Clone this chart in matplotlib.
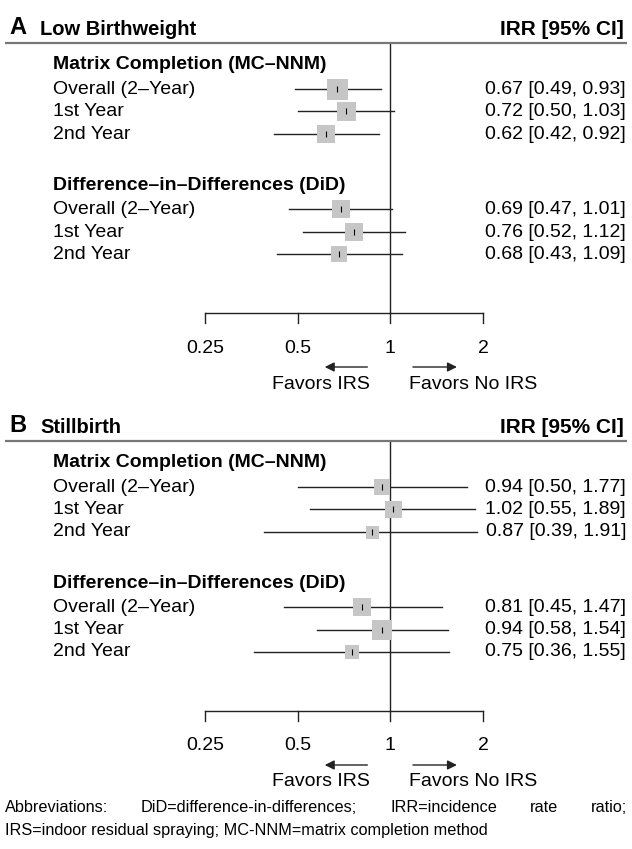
import matplotlib
matplotlib.use("Agg")
import matplotlib.pyplot as plt
import matplotlib.transforms as mtransforms

plt.rcParams['font.family'] = ['Liberation Sans', 'DejaVu Sans']

# ---- data ----
ROW_LABELS = ["Overall (2\u2013Year)", "1st Year", "2nd Year"]
GROUPS = ["Matrix Completion (MC\u2013NNM)", "Difference\u2013in\u2013Differences (DiD)"]
TICKS = [0.25, 0.5, 1, 2]
TICK_LABELS = ["0.25", "0.5", "1", "2"]

# low birthweight: MC rows then DiD rows
LBW_EST = [0.67, 0.72, 0.62, 0.69, 0.76, 0.68]
LBW_LO = [0.49, 0.50, 0.42, 0.47, 0.52, 0.43]
LBW_HI = [0.93, 1.03, 0.92, 1.01, 1.12, 1.09]
LBW_WT = [21, 19, 18, 18, 18, 16]

# stillbirth
SB_EST = [0.94, 1.02, 0.87, 0.81, 0.94, 0.75]
SB_LO = [0.50, 0.55, 0.39, 0.45, 0.58, 0.36]
SB_HI = [1.77, 1.89, 1.91, 1.47, 1.54, 1.55]
SB_WT = [16, 17, 13, 18, 20, 14]

FOOT1 = "Abbreviations: DiD=difference-in-differences; IRR=incidence rate ratio;"
FOOT2 = "IRS=indoor residual spraying; MC-NNM=matrix completion method"

W, H = 632, 849
X_ONE = 390.3      # pixel of IRR = 1
PX_DOUBLE = 92.7   # pixels per doubling
FS = 14

fig = plt.figure(figsize=(W / 100, H / 100), dpi=100)
ax = fig.add_axes([0, 0, 1, 1])
ax.set_xscale('log', base=2)
ax.set_xlim(2 ** (-X_ONE / PX_DOUBLE), 2 ** ((W - X_ONE) / PX_DOUBLE))
ax.set_ylim(H, 0)
ax.axis('off')

# x in axes fraction, y in data (pixel rows)
tr = mtransforms.blended_transform_factory(ax.transAxes, ax.transData)

# row offsets below the top rule
ROW_OFF = [46, 68, 91, 166, 189, 211]
HEAD_OFF = [21, 142]
AXIS_OFF = 270


def draw_panel(top, letter, title, est, lo, hi, wt):
    ax.text(9 / W, top - 16, letter, transform=tr, fontsize=17, fontweight='bold', va='center', ha='left')
    ax.text(40 / W, top - 14, title, transform=tr, fontsize=14.5, fontweight='bold', va='center', ha='left')
    ax.text(624 / W, top - 14, "IRR [95% CI]", transform=tr, fontsize=15, fontweight='bold', va='center', ha='right')
    ax.plot([5 / W, 627 / W], [top, top], transform=tr, color='#777777', lw=1.6, solid_capstyle='butt')

    for g, off in zip(GROUPS, HEAD_OFF):
        ax.text(53 / W, top + off, g, transform=tr, fontsize=FS, fontweight='bold', va='center', ha='left')

    ys = [top + o for o in ROW_OFF]
    for i, y in enumerate(ys):
        ax.text(53 / W, y, ROW_LABELS[i % 3], transform=tr, fontsize=FS, va='center', ha='left')
        ax.plot([lo[i], hi[i]], [y, y], color='#222222', lw=1.0, zorder=2)
        ax.scatter([est[i]], [y], marker='s', s=(wt[i] * 0.72) ** 2, color='#c6c6c6', lw=0, zorder=3)
        ax.scatter([est[i]], [y], marker='|', s=25, color='black', lw=0.8, zorder=4)
        ax.text(626 / W, y, "%.2f [%.2f, %.2f]" % (est[i], lo[i], hi[i]), transform=tr,
                fontsize=FS, va='center', ha='right')

    ya = top + AXIS_OFF
    ax.plot([1, 1], [top, ya], color='#222222', lw=1.0, zorder=1)
    ax.plot([TICKS[0], TICKS[-1]], [ya, ya], color='#222222', lw=1.0)
    for t, lab in zip(TICKS, TICK_LABELS):
        ax.plot([t, t], [ya, ya + 10], color='#222222', lw=1.0)
        ax.text(t, ya + 35, lab, fontsize=FS, ha='center', va='center')
    yarr = ya + 54
    ax.annotate("", xy=(0.60, yarr), xytext=(0.86, yarr),
                arrowprops=dict(arrowstyle='-|>', color='#222222', lw=1.0, mutation_scale=14))
    ax.annotate("", xy=(1.68, yarr), xytext=(1.16, yarr),
                arrowprops=dict(arrowstyle='-|>', color='#222222', lw=1.0, mutation_scale=14))
    ax.text(0.86, ya + 71, "Favors IRS", fontsize=FS, ha='right', va='center')
    ax.text(1.15, ya + 71, "Favors No IRS", fontsize=FS, ha='left', va='center')


draw_panel(43, "A", "Low Birthweight", LBW_EST, LBW_LO, LBW_HI, LBW_WT)
draw_panel(441, "B", "Stillbirth", SB_EST, SB_LO, SB_HI, SB_WT)

# footnote, first line justified
renderer = fig.canvas.get_renderer()
words = FOOT1.split(" ")
objs = [fig.text(0, 1 - 808 / H, w_, fontsize=11.7, va='center', ha='left') for w_ in words]
widths = [o.get_window_extent(renderer).width for o in objs]
left, right = 5, 627
gap = (right - left - sum(widths)) / (len(words) - 1)
x = left
for o, wd in zip(objs, widths):
    o.set_x(x / W)
    x += wd + gap
fig.text(5 / W, 1 - 830 / H, FOOT2, fontsize=11.7, va='center', ha='left')

fig.savefig("out.png", dpi=100)
